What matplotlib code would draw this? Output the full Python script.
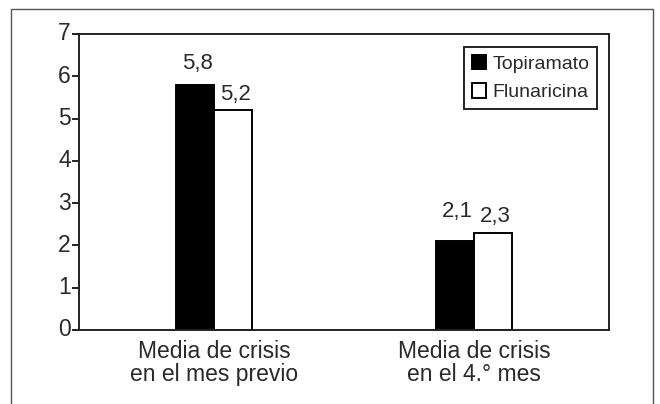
import matplotlib
matplotlib.use("Agg")
import numpy as np
import matplotlib.pyplot as plt
from matplotlib.patches import Rectangle


# ------------------------------------------------------------
# Data
# ------------------------------------------------------------

categories = ["Media de crisis\nen el mes previo", "Media de crisis\nen el 4.° mes"]
topiramato = [5.8, 2.1]
flunaricina = [5.2, 2.3]
series_names = ["Topiramato", "Flunaricina"]
y_ticks = [0, 1, 2, 3, 4, 5, 6, 7]

# label offsets above each bar (points), topiramato / flunaricina
top_pad = [8, 14]
flu_pad = [4, 4]


# ------------------------------------------------------------
# Plot settings
# ------------------------------------------------------------

plt.rcParams.update({
    "font.family": ["Liberation Sans", "DejaVu Sans"],
    "text.color": "#2a2a2a",
    "xtick.color": "#222222",
    "ytick.color": "#222222",
    "xtick.labelcolor": "#2a2a2a",
    "ytick.labelcolor": "#2a2a2a",
})

fig = plt.figure(figsize=(6.6, 4.04), dpi=100)
ax = fig.add_axes([0.1197, 0.1832, 0.803, 0.7327])

# outer frame, open at the bottom
fig.patches.append(Rectangle((11 / 660, -0.2), 642 / 660, 1.2 - 9 / 404,
                             transform=fig.transFigure, fill=False,
                             edgecolor="#555555", linewidth=1.0))

x = np.arange(len(categories))
width = 0.146

bars_t = ax.bar(x - width / 2, topiramato, width, color="black",
                edgecolor="black", linewidth=1.4, label=series_names[0])
bars_f = ax.bar(x + width / 2, flunaricina, width, color="white",
                edgecolor="black", linewidth=1.4, label=series_names[1])

for bar, v, p in zip(bars_t, topiramato, top_pad):
    ax.annotate(f"{v:.1f}".replace(".", ","),
                (bar.get_x() + bar.get_width() / 2, v),
                xytext=(2, p), textcoords="offset points",
                ha="center", va="bottom", fontsize=16)
for bar, v, p in zip(bars_f, flunaricina, flu_pad):
    ax.annotate(f"{v:.1f}".replace(".", ","),
                (bar.get_x() + bar.get_width() / 2, v),
                xytext=(2, p), textcoords="offset points",
                ha="center", va="bottom", fontsize=16)

ax.set_xlim(-0.519, 1.519)
ax.set_ylim(0, 7)
ax.set_yticks(y_ticks)
ax.set_xticks(x)
ax.set_xticklabels(categories, fontsize=16.5, linespacing=1.0)

ax.tick_params(axis="y", direction="out", length=5, width=1.4, pad=1, labelsize=16.5)
ax.tick_params(axis="x", length=0, pad=7)
for lbl in ax.get_yticklabels():
    lbl.set_va("center")

for s in ax.spines.values():
    s.set_linewidth(1.4)
    s.set_color("#222222")

leg = ax.legend(loc="upper right", bbox_to_anchor=(597 / 660, 1 - 47 / 404),
                bbox_transform=fig.transFigure, borderaxespad=0,
                fancybox=False, framealpha=1, edgecolor="#222222",
                fontsize=14, handlelength=0.75, handleheight=0.75,
                handletextpad=0.3, borderpad=0.4, labelspacing=0.55)
leg.get_frame().set_linewidth(1.4)

fig.savefig("out.png", dpi=100)
